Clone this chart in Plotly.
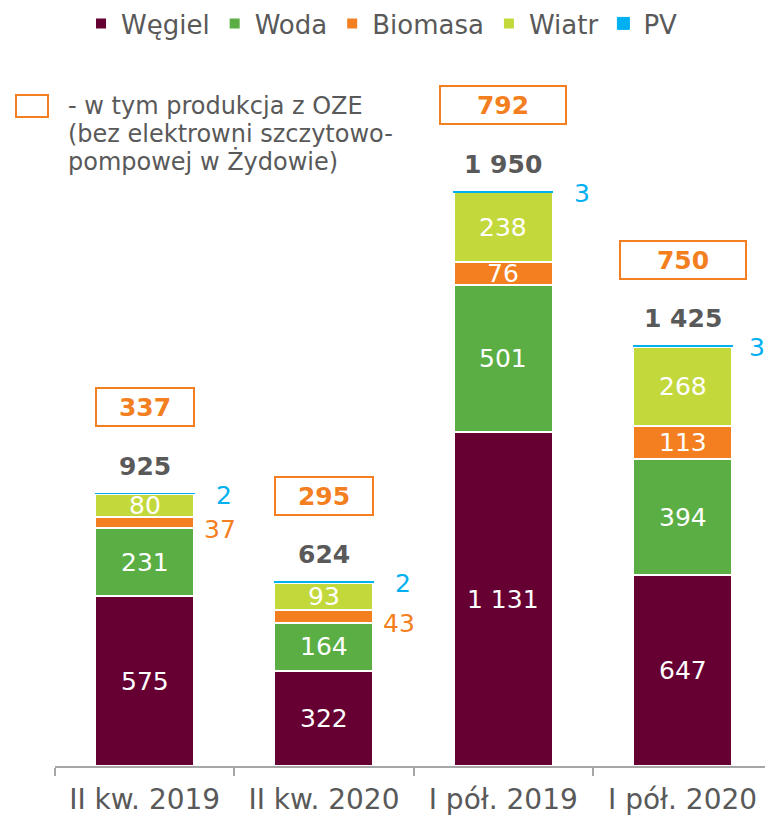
import plotly.graph_objects as go

categories = ["II kw. 2019", "II kw. 2020", "I pół. 2019", "I pół. 2020"]
wegiel = [575, 322, 1131, 647]
woda = [231, 164, 501, 394]
biomasa = [37, 43, 76, 113]
wiatr = [80, 93, 238, 268]
pv = [2, 2, 3, 3]
totals = [925, 624, 1950, 1425]
oze = [337, 295, 792, 750]

names = ["Węgiel", "Woda", "Biomasa", "Wiatr", "PV"]
values = [wegiel, woda, biomasa, wiatr, pv]
colors = ["#660033", "#5aae44", "#f47f20", "#c3d83b", "#00b0f0"]

FONT = "DejaVu Sans, Verdana, sans-serif"
GRAY = "#595959"
ORANGE = "#f47f20"

FIG_W, FIG_H = 765, 815
L, R, T, B = 55, 0, 0, 49
W, H = FIG_W - L - R, FIG_H - T - B
XMIN, XMAX = -0.5, 3.46


def fmt(v):
    return f"{v:,}".replace(",", " ")


def px_x(p):
    return (p - L) / W


def px_y(p):
    return (H + T - p) / H


fig = go.Figure()
for name, vals, col in zip(names, values, colors):
    line_col = col if name == "PV" else "white"
    line_w = 1 if name == "PV" else 2
    fig.add_trace(go.Bar(
        x=categories, y=vals, name=name, width=0.552,
        marker=dict(color=col, line=dict(color=line_col, width=line_w)),
        hoverinfo="skip",
    ))

ann = []
unit_px = W / (XMAX - XMIN)
for i, cat in enumerate(categories):
    center_px = L + (i - XMIN) * unit_px
    base = 0
    for name, vals, col in zip(names, values, colors):
        v = vals[i]
        mid = base + v / 2
        if name == "PV":
            shift = min(79, FIG_W - 8 - center_px)
            ann.append(dict(x=cat, y=base + v, text=fmt(v), showarrow=False,
                            xshift=shift, yshift=-2,
                            font=dict(family=FONT, size=25, color=col)))
        elif v >= 60:
            ann.append(dict(x=cat, y=mid, text=fmt(v), showarrow=False,
                            font=dict(family=FONT, size=25, color="white")))
        else:
            ann.append(dict(x=cat, y=mid, text=fmt(v), showarrow=False,
                            xshift=75, yshift=-7,
                            font=dict(family=FONT, size=25, color=col)))
        base += v
    top = base
    ann.append(dict(x=cat, y=top, text=f"<b>{fmt(totals[i])}</b>", showarrow=False,
                    yshift=27, font=dict(family=FONT, size=25, color=GRAY)))
    w = 94 if i < 2 else 122
    ann.append(dict(x=cat, y=top, text=f"<b>{fmt(oze[i])}</b>", showarrow=False,
                    yshift=86, width=w, height=34, borderpad=1,
                    bordercolor=ORANGE, borderwidth=2,
                    font=dict(family=FONT, size=25, color=ORANGE)))

note_lines = ["- w tym produkcja z OZE", "(bez elektrowni szczytowo-", "pompowej w Żydowie)"]
for k, t in enumerate(note_lines):
    ann.append(dict(xref="paper", yref="paper", x=px_x(66), y=px_y(106 + 28 * k),
                    xanchor="left", yanchor="middle", text=t, showarrow=False,
                    font=dict(family=FONT, size=24, color=GRAY)))

fig.update_layout(
    width=FIG_W, height=FIG_H,
    margin=dict(l=L, r=R, t=T, b=B, autoexpand=False),
    barmode="stack",
    plot_bgcolor="white", paper_bgcolor="white",
    font=dict(family=FONT, color=GRAY),
    annotations=ann,
    shapes=[dict(type="rect", xref="paper", yref="paper",
                 x0=px_x(16), x1=px_x(48), y0=px_y(117), y1=px_y(95),
                 line=dict(color=ORANGE, width=2))],
    legend=dict(orientation="h", x=px_x(81), xanchor="left",
                y=1.0, yanchor="top",
                traceorder="normal", font=dict(family=FONT, size=26, color=GRAY),
                itemclick=False, bgcolor="rgba(0,0,0,0)"),
    xaxis=dict(type="category", range=[XMIN, XMAX], showline=True, linecolor="#a6a6a6",
               linewidth=1.5, ticks="outside", tickson="boundaries", ticklen=8,
               tickcolor="#a6a6a6", tickwidth=1.5, showgrid=False, tickangle=0,
               ticklabelstandoff=8,
               tickfont=dict(family=FONT, size=28, color=GRAY)),
    yaxis=dict(range=[0, 2597], visible=False, showgrid=False, zeroline=False),
    showlegend=True,
)

fig.write_html("out.html", config={"displayModeBar": False},
               post_script="document.body.style.margin='0px';")
